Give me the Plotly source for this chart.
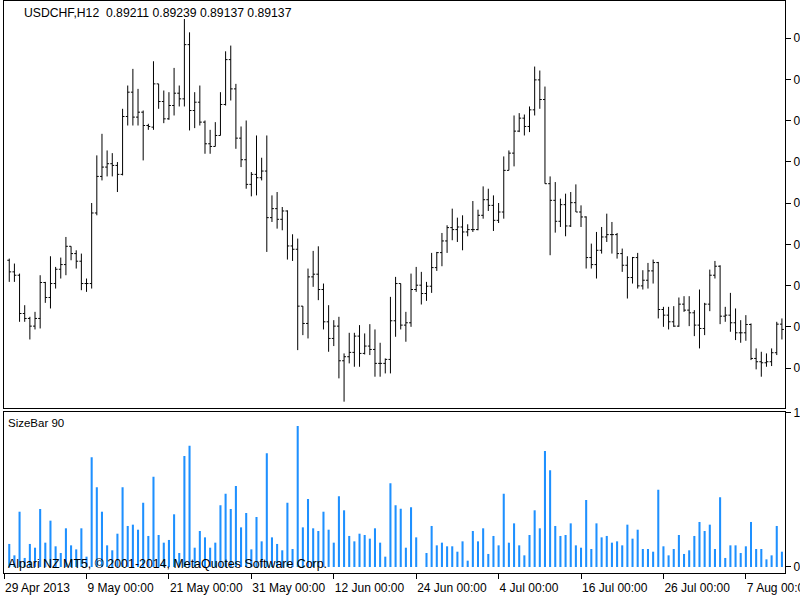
import plotly.graph_objects as go

# ---------------- data ----------------
bar_no = list(range(1, 152))  # H12 bar number counted from 29 Apr 2013 00:00

open_ = [0.93569, 0.93400, 0.93351, 0.92794, 0.92722, 0.92610, 0.92722, 0.93245, 0.93027, 0.93230,
         0.93438, 0.93506, 0.93772, 0.93666, 0.93555, 0.93230, 0.93230, 0.94257, 0.94789, 0.94925,
         0.94974, 0.94949, 0.94819, 0.95661, 0.96015, 0.95652, 0.95724, 0.95530, 0.95506, 0.96136,
         0.95879, 0.95627, 0.95821, 0.96000, 0.95918, 0.96707, 0.95748, 0.95869, 0.95579, 0.95264,
         0.95225, 0.95385, 0.95836, 0.96489, 0.96063, 0.95346, 0.95032, 0.94673, 0.94819, 0.94770,
         0.94867, 0.94189, 0.94320, 0.94165, 0.94286, 0.93777, 0.93729, 0.92901, 0.92649, 0.93327,
         0.93366, 0.93143, 0.92673, 0.92431, 0.92610, 0.92106, 0.92165, 0.92228, 0.92465, 0.92213,
         0.92320, 0.92271, 0.92068, 0.92068, 0.92126, 0.92688, 0.93230, 0.92625, 0.92659, 0.93143,
         0.93206, 0.93085, 0.93191, 0.93462, 0.93680, 0.93850, 0.94044, 0.94015, 0.94053, 0.93981,
         0.94015, 0.94015, 0.94223, 0.94450, 0.94368, 0.94150, 0.94271, 0.94877, 0.95128, 0.95448,
         0.95637, 0.95516, 0.95758, 0.96194, 0.95908, 0.94683, 0.94441, 0.94136, 0.94378, 0.94068,
         0.94407, 0.94271, 0.94199, 0.93608, 0.93506, 0.93714, 0.93908, 0.93942, 0.93942, 0.93666,
         0.93496, 0.93317, 0.93608, 0.93196, 0.93278, 0.93414, 0.93535, 0.92852, 0.92770, 0.92673,
         0.92610, 0.92930, 0.92843, 0.92804, 0.92625, 0.92576, 0.92930, 0.93351, 0.93482, 0.92755,
         0.92770, 0.92659, 0.92513, 0.92513, 0.92634, 0.92140, 0.92092, 0.92077, 0.92092, 0.92223,
         0.92639]

high = [0.93593, 0.93521, 0.93375, 0.92915, 0.92746, 0.92818, 0.93351, 0.93254, 0.93627, 0.93472,
        0.93608, 0.93908, 0.93772, 0.93714, 0.93666, 0.93303, 0.94402, 0.95095, 0.95409, 0.95167,
        0.95128, 0.94998, 0.95773, 0.96112, 0.96354, 0.96063, 0.95748, 0.95555, 0.96465, 0.96136,
        0.96039, 0.96015, 0.96368, 0.96112, 0.97080, 0.96886, 0.96015, 0.96112, 0.95603, 0.95467,
        0.95579, 0.96015, 0.96610, 0.96693, 0.96136, 0.95516, 0.95603, 0.94852, 0.95385, 0.95061,
        0.95385, 0.94513, 0.94562, 0.94344, 0.94295, 0.93947, 0.93884, 0.92901, 0.93448, 0.93705,
        0.93772, 0.93230, 0.92915, 0.92697, 0.92746, 0.92213, 0.92513, 0.92513, 0.92625, 0.92504,
        0.92639, 0.92562, 0.92368, 0.92140, 0.93036, 0.93327, 0.93230, 0.92818, 0.93375, 0.93472,
        0.93400, 0.93254, 0.93676, 0.93690, 0.93966, 0.94078, 0.94320, 0.94189, 0.94223, 0.94092,
        0.94431, 0.94305, 0.94644, 0.94610, 0.94513, 0.94402, 0.95080, 0.95167, 0.95676, 0.95710,
        0.95690, 0.95807, 0.96388, 0.96330, 0.96097, 0.94789, 0.94707, 0.94465, 0.94538, 0.94562,
        0.94673, 0.94368, 0.94208, 0.93811, 0.93981, 0.94053, 0.94247, 0.94126, 0.93966, 0.93739,
        0.93627, 0.93617, 0.93676, 0.93424, 0.93530, 0.93579, 0.93545, 0.92891, 0.92891, 0.92901,
        0.93027, 0.93046, 0.93046, 0.92843, 0.93143, 0.92949, 0.93433, 0.93559, 0.93496, 0.92891,
        0.93094, 0.92867, 0.92697, 0.92770, 0.92649, 0.92286, 0.92237, 0.92213, 0.92286, 0.92673,
        0.92722]

low = [0.93254, 0.93254, 0.92673, 0.92673, 0.92416, 0.92562, 0.92576, 0.92949, 0.92867, 0.93157,
       0.93303, 0.93351, 0.93569, 0.93448, 0.93133, 0.93109, 0.93157, 0.94223, 0.94731, 0.94789,
       0.94789, 0.94562, 0.94804, 0.95530, 0.95530, 0.95530, 0.95022, 0.95467, 0.95467, 0.95773,
       0.95564, 0.95613, 0.95676, 0.95807, 0.95807, 0.95458, 0.95492, 0.95530, 0.95119, 0.95119,
       0.95225, 0.95385, 0.95821, 0.95894, 0.95191, 0.94925, 0.94610, 0.94499, 0.94513, 0.94731,
       0.93690, 0.94126, 0.94029, 0.94005, 0.93579, 0.93559, 0.92261, 0.92479, 0.92431, 0.93182,
       0.92988, 0.92562, 0.92237, 0.92320, 0.91850, 0.91511, 0.92068, 0.92019, 0.92019, 0.92198,
       0.92189, 0.91874, 0.91874, 0.91922, 0.91922, 0.92455, 0.92562, 0.92383, 0.92600, 0.93109,
       0.92925, 0.92978, 0.93094, 0.93414, 0.93482, 0.93676, 0.93860, 0.93835, 0.93714, 0.93918,
       0.93981, 0.94005, 0.94174, 0.94286, 0.93995, 0.94111, 0.94174, 0.94877, 0.94935, 0.95434,
       0.95385, 0.95434, 0.95676, 0.95773, 0.94683, 0.93642, 0.93971, 0.94053, 0.93918, 0.94053,
       0.94271, 0.94053, 0.93448, 0.93448, 0.93303, 0.93666, 0.93835, 0.93666, 0.93593, 0.93400,
       0.93012, 0.93230, 0.93157, 0.93143, 0.93157, 0.93230, 0.92722, 0.92600, 0.92562, 0.92600,
       0.92600, 0.92818, 0.92610, 0.92465, 0.92286, 0.92479, 0.92828, 0.93303, 0.92639, 0.92673,
       0.92528, 0.92407, 0.92368, 0.92397, 0.92116, 0.91981, 0.91874, 0.92019, 0.92029, 0.92189,
       0.92416]

close = [0.93400, 0.93351, 0.92794, 0.92722, 0.92610, 0.92722, 0.93245, 0.93027, 0.93230, 0.93438,
         0.93506, 0.93772, 0.93666, 0.93555, 0.93230, 0.93230, 0.94257, 0.94789, 0.94925, 0.94974,
         0.94949, 0.94819, 0.95661, 0.96015, 0.95652, 0.95724, 0.95530, 0.95516, 0.96136, 0.95879,
         0.95627, 0.95821, 0.96000, 0.95918, 0.96707, 0.95748, 0.95869, 0.95579, 0.95264, 0.95225,
         0.95385, 0.95836, 0.96489, 0.96063, 0.95346, 0.95032, 0.94673, 0.94819, 0.94770, 0.94867,
         0.94189, 0.94320, 0.94165, 0.94286, 0.93777, 0.93729, 0.92901, 0.92649, 0.93327, 0.93366,
         0.93143, 0.92673, 0.92431, 0.92610, 0.92106, 0.92165, 0.92228, 0.92465, 0.92213, 0.92320,
         0.92271, 0.92068, 0.92068, 0.92126, 0.92688, 0.93230, 0.92625, 0.92659, 0.93143, 0.93206,
         0.93085, 0.93191, 0.93462, 0.93680, 0.93850, 0.94044, 0.94015, 0.94053, 0.93981, 0.94015,
         0.94015, 0.94223, 0.94450, 0.94368, 0.94150, 0.94271, 0.94877, 0.95128, 0.95448, 0.95637,
         0.95516, 0.95758, 0.96194, 0.95908, 0.94683, 0.94441, 0.94136, 0.94378, 0.94068, 0.94407,
         0.94271, 0.94199, 0.93608, 0.93506, 0.93714, 0.93908, 0.93942, 0.93942, 0.93666, 0.93496,
         0.93317, 0.93608, 0.93196, 0.93278, 0.93414, 0.93535, 0.92852, 0.92770, 0.92673, 0.92610,
         0.92930, 0.92843, 0.92804, 0.92625, 0.92576, 0.92930, 0.93351, 0.93482, 0.92755, 0.92770,
         0.92659, 0.92513, 0.92513, 0.92634, 0.92140, 0.92092, 0.92077, 0.92092, 0.92223, 0.92639,
         0.92562]

size_bar = [265, 134, 636, 104, 265, 222, 667, 280, 533, 238,
            161, 445, 249, 203, 445, 119, 1261, 916, 636, 249,
            192, 383, 916, 472, 487, 429, 740, 357, 1039, 368,
            280, 311, 606, 161, 1277, 1395, 222, 414, 341, 222,
            280, 709, 843, 667, 932, 456, 621, 203, 575, 295,
            1307, 341, 265, 192, 740, 207, 1622, 456, 782, 445,
            414, 636, 429, 280, 813, 652, 357, 295, 383, 368,
            326, 445, 280, 119, 962, 709, 671, 222, 686, 341,
            0, 161, 472, 249, 280, 238, 238, 176, 295, 73,
            414, 295, 445, 150, 357, 249, 843, 280, 502, 249,
            134, 368, 652, 445, 1334, 1112, 472, 357, 368, 502,
            249, 222, 771, 207, 502, 341, 357, 280, 295, 249,
            487, 326, 429, 207, 207, 176, 889, 238, 134, 207,
            368, 150, 192, 357, 518, 414, 487, 207, 801, 104,
            249, 249, 161, 238, 518, 207, 207, 88, 134, 472,
            176]

tick_bars = [0, 16, 32, 48, 64, 80, 96, 112, 128, 144]
tick_labels = ["29 Apr 2013", "9 May 00:00", "21 May 00:00", "31 May 00:00", "12 Jun 00:00",
               "24 Jun 00:00", "4 Jul 00:00", "16 Jul 00:00", "26 Jul 00:00", "7 Aug 00:00"]
# price grid levels; the window crops their labels down to the leading "0"
price_ticks = [0.9200, 0.9260, 0.9320, 0.9380, 0.9440, 0.9500, 0.9560, 0.9620, 0.9680]
price_tick_text = ["0"] * len(price_ticks)
size_ticks = [0, 1777]
size_tick_text = ["0", "1"]

header = "USDCHF,H12\u00a0\u00a00.89211 0.89239 0.89137 0.89137"
sub_title = "SizeBar 90"
copyright_txt = "Alpari NZ MT5, \u00a9 2001-2014, MetaQuotes Software Corp."

# ---------------- figure ----------------
FONT = "Liberation Sans"
fig = go.Figure()
fig.add_trace(go.Ohlc(
    x=bar_no, open=open_, high=high, low=low, close=close,
    xaxis="x", yaxis="y", tickwidth=0.38,
    increasing=dict(line=dict(color="#000000", width=1)),
    decreasing=dict(line=dict(color="#000000", width=1)),
    hoverinfo="skip", showlegend=False))
fig.add_trace(go.Bar(
    x=bar_no, y=size_bar, xaxis="x2", yaxis="y2", width=0.4,
    marker=dict(color="#1E90FF", line=dict(width=0)), showlegend=False))

axis_common = dict(showline=True, mirror=True, linecolor="#000000", linewidth=1,
                   showgrid=False, zeroline=False, tickcolor="#000000",
                   tickfont=dict(family=FONT, size=12, color="#000000"), automargin=False)

xr = [-0.02, 151.6]
fig.update_layout(
    width=800, height=600,
    margin=dict(l=4, r=15, t=1, b=27, pad=0),
    paper_bgcolor="#ffffff", plot_bgcolor="#ffffff",
    showlegend=False,
    xaxis=dict(domain=[0, 1], anchor="y", range=xr, showticklabels=False, ticks="",
               rangeslider=dict(visible=False), **axis_common),
    yaxis=dict(domain=[0.2885, 1], anchor="x", side="right",
               range=[0.91419, 0.97342], tickmode="array", tickvals=price_ticks,
               ticktext=price_tick_text, ticks="outside", ticklen=5,
               **axis_common),
    xaxis2=dict(domain=[0, 1], anchor="y2", range=xr, tickmode="array",
                tickvals=tick_bars, ticktext=tick_labels, ticks="outside", ticklen=5,
                ticklabelposition="outside right", ticklabeloverflow="allow",
                ticklabelstandoff=4, **axis_common),
    yaxis2=dict(domain=[0, 0.2806], anchor="x2", side="right", range=[-69, 1777],
                tickmode="array", tickvals=size_ticks, ticktext=size_tick_text,
                ticks="outside", ticklen=5, **axis_common),
    annotations=[
        dict(text=header, xref="paper", yref="paper", x=0.023, y=0.979,
             xanchor="left", yanchor="middle", showarrow=False,
             font=dict(family=FONT, size=12.2, color="#000000")),
        dict(text=sub_title, xref="paper", yref="paper", x=0.003, y=0.2614,
             xanchor="left", yanchor="middle", showarrow=False,
             font=dict(family=FONT, size=11.5, color="#000000")),
        dict(text=copyright_txt, xref="paper", yref="paper", x=0.003, y=0.0166,
             xanchor="left", yanchor="middle", showarrow=False,
             font=dict(family=FONT, size=12.4, color="#000000")),
    ],
)

fig.write_html("out.html")
